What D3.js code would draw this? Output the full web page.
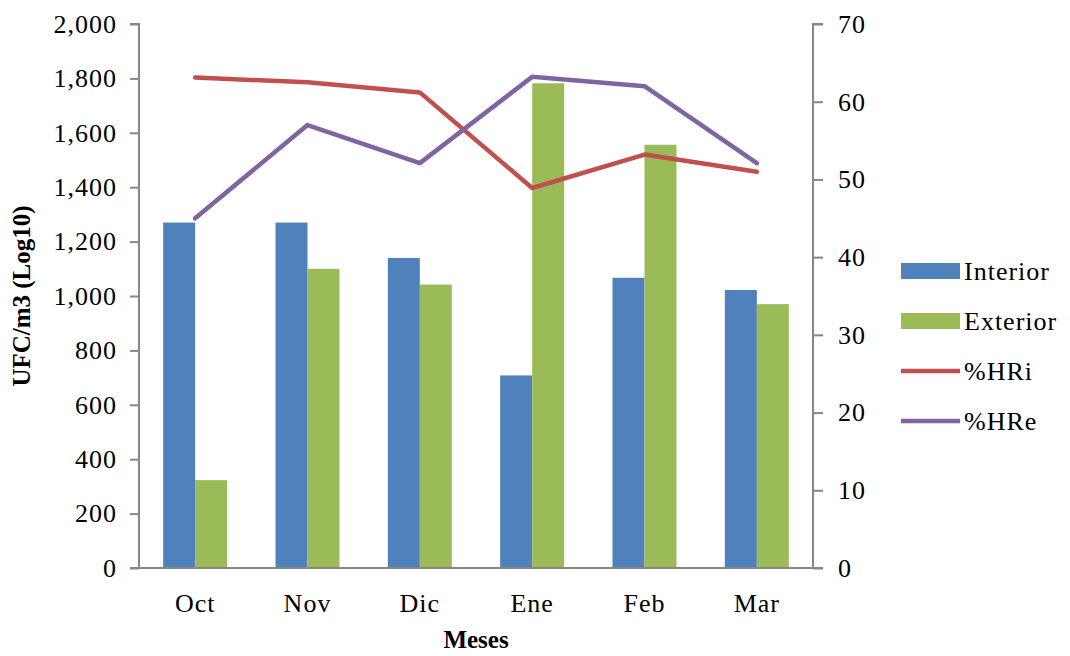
<!DOCTYPE html>
<html>
<head>
<meta charset="utf-8">
<script src="https://cdn.jsdelivr.net/npm/d3@7"></script>
<style>
  html, body { margin: 0; padding: 0; background: #fff; }
  svg { display: block; }
  text { font-family: "Liberation Serif", "Times New Roman", serif; fill: #000; }
</style>
</head>
<body>
<svg id="chart" width="1070" height="656"></svg>
<script>
const months = ["Oct", "Nov", "Dic", "Ene", "Feb", "Mar"];
const interior = [1270, 1270, 1140, 708, 1067, 1022];
const exterior = [323, 1100, 1042, 1782, 1556, 970];
const hrInterior = [63.1, 62.5, 61.2, 48.9, 53.2, 51.0];
const hrExterior = [45.0, 57.0, 52.1, 63.2, 62.0, 52.1];
const leftTicks = [0, 200, 400, 600, 800, 1000, 1200, 1400, 1600, 1800, 2000];
const rightTicks = [0, 10, 20, 30, 40, 50, 60, 70];

(function () {
const colors = { interior: "#4F81BD", exterior: "#9BBB59", hri: "#C0504D", hre: "#8064A2" };
const svg = d3.select("#chart");
const pLeft = 139, pRight = 813, pTop = 24, pBottom = 568;

const x = d3.scaleBand().domain(months).range([pLeft, pRight]).paddingInner(0).paddingOuter(0);
const y = d3.scaleLinear().domain([0, 2000]).range([pBottom, pTop]);
const y2 = d3.scaleLinear().domain([0, 70]).range([pBottom, pTop]);
const barW = 32;

const fmt = d3.format(",");
const axisColor = "#868686";

// Bars
const g = svg.append("g");
months.forEach((m, i) => {
  const cx = x(m) + x.bandwidth() / 2;
  g.append("rect").attr("x", cx - barW).attr("y", y(interior[i]))
    .attr("width", barW).attr("height", y(0) - y(interior[i])).attr("fill", colors.interior);
  g.append("rect").attr("x", cx).attr("y", y(exterior[i]))
    .attr("width", barW).attr("height", y(0) - y(exterior[i])).attr("fill", colors.exterior);
});

// Axes
const yAxis = d3.axisLeft(y).tickValues(leftTicks).tickFormat(fmt).tickSize(9).tickPadding(13);
const gy = svg.append("g").attr("transform", `translate(${pLeft},0)`).call(yAxis);
const y2Axis = d3.axisRight(y2).tickValues(rightTicks).tickSize(10).tickPadding(15);
const gy2 = svg.append("g").attr("transform", `translate(${pRight},0)`).call(y2Axis);
const xAxis = d3.axisBottom(x).tickSize(0).tickPadding(26);
const gx = svg.append("g").attr("transform", `translate(0,${pBottom})`).call(xAxis);

[gy, gy2, gx].forEach(a => {
  a.selectAll("path.domain").attr("stroke", axisColor).attr("stroke-width", 2);
  a.selectAll(".tick line").attr("stroke", axisColor).attr("stroke-width", 2);
  a.selectAll(".tick text").attr("font-family", "Liberation Serif, serif")
    .attr("font-size", 26).attr("fill", "#000").style("letter-spacing", "1px");
});
gy.select("path.domain").attr("d", `M-9,${pTop}H0V${pBottom}H-9`);
gy2.select("path.domain").attr("d", `M10,${pTop}H0V${pBottom}H10`);
gx.select("path.domain").attr("d", `M${pLeft},0H${pRight}`);

// Lines
const line = d3.line().x((d, i) => x(months[i]) + x.bandwidth() / 2).y(d => y2(d));
svg.append("path").datum(hrInterior).attr("d", line).attr("fill", "none")
  .attr("stroke", colors.hri).attr("stroke-width", 4.5).attr("stroke-linejoin", "round").attr("stroke-linecap", "round");
svg.append("path").datum(hrExterior).attr("d", line).attr("fill", "none")
  .attr("stroke", colors.hre).attr("stroke-width", 4.5).attr("stroke-linejoin", "round").attr("stroke-linecap", "round");

// Axis titles
svg.append("text").attr("transform", "translate(30,296) rotate(-90)")
  .attr("text-anchor", "middle").attr("font-weight", "bold").attr("font-size", 25)
  .text("UFC/m3 (Log10)");
svg.append("text").attr("x", 476).attr("y", 648).attr("text-anchor", "middle")
  .attr("font-weight", "bold").attr("font-size", 25).text("Meses");

// Legend
const legend = [
  { name: "Interior", color: colors.interior, type: "rect" },
  { name: "Exterior", color: colors.exterior, type: "rect" },
  { name: "%HRi", color: colors.hri, type: "line" },
  { name: "%HRe", color: colors.hre, type: "line" }
];
const lg = svg.append("g");
legend.forEach((d, i) => {
  const cy = 271 + i * 50;
  if (d.type === "rect") {
    lg.append("rect").attr("x", 901).attr("y", cy - 8).attr("width", 59).attr("height", 16).attr("fill", d.color);
  } else {
    lg.append("line").attr("x1", 901).attr("x2", 960).attr("y1", cy).attr("y2", cy)
      .attr("stroke", d.color).attr("stroke-width", 4.5);
  }
  lg.append("text").attr("x", 964).attr("y", cy + 9).attr("font-size", 26)
    .style("letter-spacing", "1px").text(d.name);
});
})();
</script>
</body>
</html>
